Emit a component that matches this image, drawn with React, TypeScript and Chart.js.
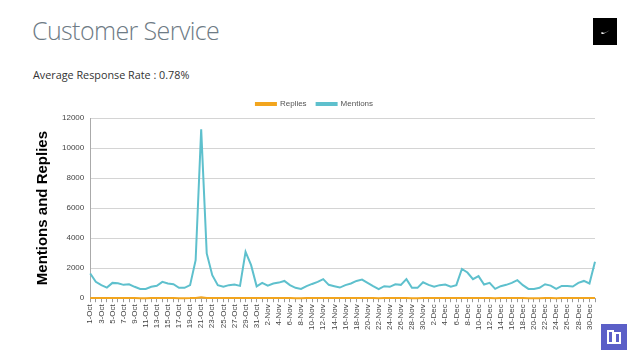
import React, { useEffect, useRef } from "react";
import { Chart, registerables } from "chart.js";

Chart.register(...registerables);

const categories: string[] = [
  "1-Oct","2-Oct","3-Oct","4-Oct","5-Oct","6-Oct","7-Oct","8-Oct","9-Oct","10-Oct",
  "11-Oct","12-Oct","13-Oct","14-Oct","15-Oct","16-Oct","17-Oct","18-Oct","19-Oct","20-Oct",
  "21-Oct","22-Oct","23-Oct","24-Oct","25-Oct","26-Oct","27-Oct","28-Oct","29-Oct","30-Oct","31-Oct",
  "1-Nov","2-Nov","3-Nov","4-Nov","5-Nov","6-Nov","7-Nov","8-Nov","9-Nov","10-Nov",
  "11-Nov","12-Nov","13-Nov","14-Nov","15-Nov","16-Nov","17-Nov","18-Nov","19-Nov","20-Nov",
  "21-Nov","22-Nov","23-Nov","24-Nov","25-Nov","26-Nov","27-Nov","28-Nov","29-Nov","30-Nov",
  "1-Dec","2-Dec","3-Dec","4-Dec","5-Dec","6-Dec","7-Dec","8-Dec","9-Dec","10-Dec",
  "11-Dec","12-Dec","13-Dec","14-Dec","15-Dec","16-Dec","17-Dec","18-Dec","19-Dec","20-Dec",
  "21-Dec","22-Dec","23-Dec","24-Dec","25-Dec","26-Dec","27-Dec","28-Dec","29-Dec","30-Dec","31-Dec",
];

const mentions: number[] = [
  1650, 1090, 870, 710, 1020, 1000, 890, 930, 760, 620,
  620, 760, 830, 1090, 980, 930, 690, 690, 870, 2530,
  11240, 2980, 1530, 870, 760, 870, 910, 820, 3090, 2200, 790,
  1020, 840, 980, 1040, 1150, 870, 690, 620, 800, 950,
  1090, 1270, 890, 800, 710, 870, 980, 1150, 1240, 1020,
  800, 600, 800, 760, 930, 890, 1270, 690, 690, 1060,
  890, 760, 870, 910, 760, 870, 1950, 1710, 1270, 1470,
  910, 1020, 620, 800, 890, 1020, 1200, 870, 620, 620,
  690, 930, 840, 620, 820, 820, 780, 1020, 1150, 980, 2420,
];

const replies: number[] = [
  12, 8, 7, 6, 8, 8, 7, 7, 6, 5,
  5, 6, 6, 8, 8, 7, 5, 5, 7, 18,
  60, 20, 11, 7, 6, 7, 7, 6, 22, 16, 6,
  8, 7, 8, 8, 9, 7, 5, 5, 6, 7,
  8, 10, 7, 6, 6, 7, 8, 9, 10, 8,
  6, 5, 6, 6, 7, 7, 10, 5, 5, 8,
  7, 6, 7, 7, 6, 7, 15, 13, 10, 11,
  7, 8, 5, 6, 7, 8, 9, 7, 5, 5,
  5, 7, 7, 5, 6, 6, 6, 8, 9, 8, 18,
];

const yTicks: number[] = [0, 2000, 4000, 6000, 8000, 10000, 12000];

function ChartBox() {
  const ref = useRef<HTMLCanvasElement | null>(null);
  useEffect(() => {
    if (!ref.current) return;
    const chart = new Chart(ref.current, {
      type: "line",
      data: {
        labels: categories,
        datasets: [
          {
            label: "Replies",
            data: replies,
            borderColor: "#f2a51e",
            backgroundColor: "#f2a51e",
            borderWidth: 2,
            pointRadius: 0,
            tension: 0,
            clip: false,
          },
          {
            label: "Mentions",
            data: mentions,
            borderColor: "#5ec0cd",
            backgroundColor: "#5ec0cd",
            borderWidth: 2,
            pointRadius: 0,
            tension: 0,
            clip: false,
          },
        ],
      },
      options: {
        animation: false,
        responsive: false,
        maintainAspectRatio: false,
        layout: { padding: { left: 34, right: 17, top: 0, bottom: 0 } },
        plugins: {
          tooltip: { enabled: false },
          legend: {
            position: "top",
            labels: {
              boxWidth: 20,
              boxHeight: 2,
              padding: 10,
              color: "#555",
              font: { family: "Liberation Sans, Arial", size: 8 },
            },
          },
        },
        scales: {
          x: {
            offset: false,
            grid: {
              display: true,
              drawOnChartArea: false,
              color: "#999",
              tickLength: 4,
            },
            border: { color: "#aaa" },
            ticks: {
              autoSkip: false,
              maxRotation: 90,
              minRotation: 90,
              padding: 2,
              color: "#444",
              font: { family: "Liberation Sans, Arial", size: 8 },
              callback: (_v: any, i: number) => (i % 2 === 0 ? categories[i] : ""),
            },
          },
          y: {
            min: 0,
            max: 12000,
            afterBuildTicks: (axis: any) => {
              axis.ticks = yTicks.map((v) => ({ value: v }));
            },
            grid: { color: "#d4d4d4", drawTicks: false },
            border: { color: "#aaa" },
            ticks: {
              padding: 6,
              color: "#444",
              font: { family: "Liberation Sans, Arial", size: 8 },
              callback: (v: any) => String(v),
            },
            title: {
              display: true,
              text: "Mentions and Replies",
              color: "#000",
              font: { family: "Liberation Sans, Arial", size: 15, weight: "bold" },
              padding: { top: 0, bottom: 4 },
            },
          },
        },
      },
    });
    return () => chart.destroy();
  }, []);
  return <canvas ref={ref} width={612} height={242} style={{ width: 612, height: 242, display: "block" }} />;
}

export default function App() {
  return (
    <div
      style={{
        position: "absolute",
        left: 0,
        top: 0,
        width: 638,
        height: 359,
        background: "#fff",
        overflow: "hidden",
        fontFamily: "'Open Sans', sans-serif",
      }}
    >
      <div
        style={{
          position: "absolute",
          left: 32,
          top: 13,
          fontSize: 25,
          fontWeight: 300,
          color: "#6e7b85",
          letterSpacing: -0.6,
          whiteSpace: "nowrap",
        }}
      >
        Customer Service
      </div>
      <div
        style={{
          position: "absolute",
          left: 33,
          top: 67,
          fontSize: 10.8,
          color: "#333",
          whiteSpace: "nowrap",
        }}
      >
        Average Response Rate : 0.78%
      </div>
      <div
        style={{
          position: "absolute",
          left: 593,
          top: 18,
          width: 24,
          height: 27,
          background: "#000",
        }}
      >
        <svg width="24" height="27" viewBox="0 0 24 27">
          <path d="M8 15 C9 17 11 16 17 12 C12 15 10 15.5 9 14 Z" fill="#fff" />
        </svg>
      </div>
      <div
        style={{
          position: "absolute",
          left: 601,
          top: 324,
          width: 26,
          height: 26,
          background: "#5b5fc7",
        }}
      >
        <svg width="26" height="26" viewBox="0 0 26 26">
          <path d="M7 7 H12 V17 H14 V9 H19 V19 H14 V17 H12 V19 H7 Z" fill="none" stroke="#fff" strokeWidth="2" />
        </svg>
      </div>
      <div style={{ position: "absolute", left: 0, top: 90 }}>
        <ChartBox />
      </div>
    </div>
  );
}
